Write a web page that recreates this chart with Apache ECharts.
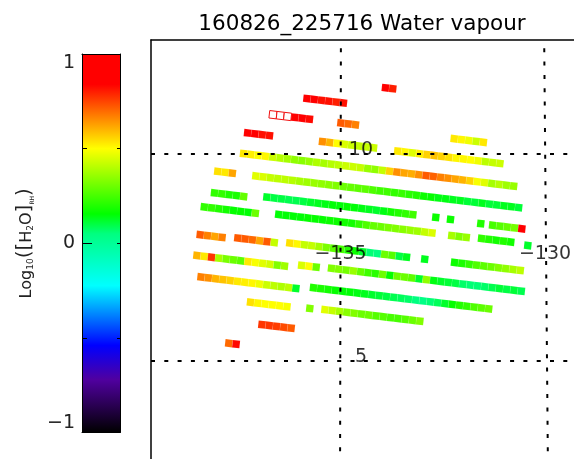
<!DOCTYPE html>
<html><head><meta charset="utf-8">
<style>html,body{margin:0;padding:0;background:#fff}#c{width:574px;height:459px}</style>
<script src="https://cdn.jsdelivr.net/npm/echarts@6/dist/echarts.min.js"></script>
</head><body><div id="c"></div>
<script>
const titleText = '160826_225716 Water vapour';
const FONT = '"DejaVu Sans ExtraLight","DejaVu Sans"';
// colour table: value -> colour
const rampValues = [-1, -0.72, -0.54, -0.224, 0.05, 0.155, 0.5, 0.67, 0.84, 1];
const rampColors = ['#000000', '#5000a0', '#0000ff', '#00ffff', '#00ff80', '#00ff00', '#ffff00', '#ff8000', '#ff0000', '#ff0000'];
// left edge of each swath strip, degrees
const stripLon = [-135.91,-133.99,-136.74,-135.08,-137.36,-135.53,-132.31,-133.69,-137.46,-138.09,-137.16,-138.17,-136.89,-132.76,-132.40,-131.66,-131.37,-138.42,-136.60,-132.37,-131.64,-130.51,-138.52,-137.60,-136.33,-133.03,-132.30,-138.60,-136.04,-135.31,-138.50,-135.75,-137.29,-135.84,-135.47,-137.01,-137.82];
const stripLat = [11.35,11.61,10.96,10.76,10.52,10.31,10.38,10.08,10.02,9.59,9.48,9.07,8.97,8.48,8.43,8.33,8.29,8.73,8.55,8.04,7.97,7.80,8.06,7.98,7.86,7.47,7.39,7.56,7.32,7.25,7.04,6.78,6.43,6.28,6.25,5.89,5.44];
// log10 water vapour per cell; null = open (unfilled) cell
const stripValues = [
 [.85,.85,.82,.82,.8,.82],
 [.85,.8],
 [null,null,null,.85,.85,.83],
 [.72,.70,.67],
 [.85,.85,.82,.82],
 [.65,.6,.5,.45,.43,.42,.42,.43],
 [.53,.51,.48,.43,.53],
 [.53,.51,.46,.52,.56,.58,.56,.54,.51,.51,.5,.48,.41,.42,.43],
 [.53,.52,.5,.51,.43,.4,.38,.35,.34,.36,.39,.38,.40,.41,.43,.43,.42,.36,.35,.42,.56,.65,.62,.61,.65,.72,.71,.67,.65,.62,.6,.56,.49,.46,.38,.4,.37,.36],
 [.54,.53,.62],
 [.46,.45,.42,.41,.41,.40,.38,.37,.36,.35,.34,.33,.3,.29,.28,.28,.26,.24,.24,.22,.23,.21,.2,.17,.16,.14,.14,.13,.13,.11,.11,.13,.11,.11,.13,.13,.11],
 [.22,.22,.19,.19,.29],
 [.12,.1,.1,.09,.09,.1,.12,.13,.14,.15,.15,.16,.15,.14,.13,.12,.14,.18,.2,.22,.24],
 [.17],[.17],[.2],
 [.25,.27,.29,.31,.85],
 [.22,.22,.2,.18,.16,.16,.15,.3],
 [.15,.15,.15,.15,.16,.16,.16,.17,.17,.18,.18,.22,.26,.29,.3,.32,.33,.34,.36,.37,.42,.45],
 [.38,.33,.36],
 [.22,.2,.18,.2,.18],
 [.12],
 [.72,.67,.62,.67],
 [.72,.72,.70,.62,.72,.42],
 [.54,.51,.42,.42,.38,.32,.28,.25,.2,.17,.12,.06,.05,.3,.27,.1,.13],
 [.13],
 [.17,.19,.22,.26,.28,.3,.33,.35,.38,.41],
 [.6,.53,.77,.38,.32,.3,.28,.53,.49,.46,.44,.33,.37],
 [.45,.5,.3],
 [.33,.33,.31,.36,.29,.24,.21,.3,.16,.3,.3,.28,.12,.35,.14,.12,.11,.1,.07,.06,.06,.07,.09,.11,.1,.11,.09],
 [.67,.65,.6,.58,.56,.53,.52,.51,.48,.43,.41,.39,.41,.12],
 [.2,.19,.18,.16,.15,.15,.14,.13,.12,.11,.1,.09,.08,.07,.05,.04,.06,.08,.12,.16,.2,.22,.26,.28,.3],
 [.54,.51,.5,.5,.5,.49],
 [.33],
 [.46,.42,.38,.34,.33,.3,.3,.27,.27,.25,.25,.27,.3,.33],
 [.77,.77,.76,.74,.72],
 [.7,.83]
];
// one swath cell along a strip, degrees
const cellLon = 0.1785, cellLat = -0.0212, cellHalfLat = 0.09, cellShear = 0.01;
// graticule
const lonExtent = [-139.633, -129.291], latExtent = [2.633, 12.754];
const latLines = [10, 5];
const lon135Line = [[-134.99, 12.754], [-135.01, 2.633]];
const lon130Line = [[-130.02, 12.754], [-129.93, 2.633]];
const mapLabels = [['10', -134.5, 10.1], ['5', -134.5, 5.1], ['\u2212135', -135, 7.59], ['\u2212130', -130, 7.59]];
const barLabels = {'-1': '\u22121', '0': '0', '1': '1'};

function ramp(v) {
  let i = 0;
  while (i < rampValues.length - 2 && v > rampValues[i + 1]) i++;
  const t = Math.max(0, Math.min(1, (v - rampValues[i]) / (rampValues[i + 1] - rampValues[i])));
  const c = h => [1, 3, 5].map(k => parseInt(h.substr(k, 2), 16));
  const a = c(rampColors[i]), b = c(rampColors[i + 1]);
  return 'rgb(' + a.map((x, k) => Math.round(x + (b[k] - x) * t)).join(',') + ')';
}
const cells = [];
stripValues.forEach((vals, s) => vals.forEach((v, i) => {
  cells.push([stripLon[s] + i * cellLon, stripLat[s] + i * cellLat, v === null ? NaN : v]);
}));
const dashed = {color: '#000', width: 2, type: [4, 9.3]};
const lineSeries = (data, offset) => ({
  type: 'line', xAxisIndex: 0, yAxisIndex: 0, data, symbol: 'none', silent: true, z: 6, clip: true,
  lineStyle: Object.assign({}, dashed, {dashOffset: offset})
});
const chart = echarts.init(document.getElementById('c'), null, {renderer: 'canvas'});
const thin = {color: '#000', width: 1};
chart.setOption({
  animation: false,
  backgroundColor: '#fff',
  title: {text: titleText, left: 357, top: 8, textAlign: 'center',
    textStyle: {fontFamily: FONT, fontWeight: 'normal', fontSize: 21.5, color: '#000'}},
  grid: [
    {left: 151, top: 40, right: 0, bottom: 0, outerBoundsMode: 'none'},
    {left: 82, top: 54, width: 38, height: 378.5, outerBoundsMode: 'none'}
  ],
  xAxis: [
    {type: 'value', gridIndex: 0, min: lonExtent[0], max: lonExtent[1], position: 'top',
     axisLine: {show: true, onZero: false, lineStyle: {color: '#000', width: 1.5}}, axisTick: {show: false}, axisLabel: {show: false}, splitLine: {show: false}},
    {type: 'value', gridIndex: 1, z: 5, min: 0, max: 1, position: 'top', axisLine: {show: true, onZero: false, lineStyle: thin}, axisTick: {show: false}, axisLabel: {show: false}, splitLine: {show: false}},
    {type: 'value', gridIndex: 1, z: 5, min: 0, max: 1, position: 'bottom', axisLine: {show: true, onZero: false, lineStyle: thin}, axisTick: {show: false}, axisLabel: {show: false}, splitLine: {show: false}}
  ],
  yAxis: [
    {type: 'value', gridIndex: 0, min: latExtent[0], max: latExtent[1], position: 'left',
     axisLine: {show: true, onZero: false, lineStyle: {color: '#000', width: 1.5}}, axisTick: {show: false}, axisLabel: {show: false}, splitLine: {show: false}},
    {type: 'value', gridIndex: 1, z: 5, min: -1, max: 1, interval: 0.5, position: 'left',
     axisLine: {show: true, onZero: false, lineStyle: thin}, splitLine: {show: false},
     axisTick: {show: true, inside: true, length: 5, lineStyle: thin},
     axisLabel: {show: true, margin: 7, fontFamily: FONT, fontSize: 19, color: '#222',
       verticalAlignMinLabel: 'bottom', verticalAlignMaxLabel: 'top',
       formatter: v => barLabels[String(v)] || ''},
     name: '{a|Log}{b|10}{c|([}{a|H}{b|2}{a|O}{c|]}{d|RH}{c|)}', nameLocation: 'middle', nameRotate: 90, nameGap: 47,
     nameTextStyle: {rich: {
       a: {fontFamily: FONT, fontSize: 16, color: '#222', verticalAlign: 'bottom', lineHeight: 20},
       b: {fontFamily: FONT, fontSize: 9, color: '#222', verticalAlign: 'bottom', lineHeight: 16},
       c: {fontFamily: FONT, fontSize: 20, color: '#222', verticalAlign: 'bottom', lineHeight: 24},
       d: {fontFamily: FONT, fontSize: 6, color: '#222', verticalAlign: 'bottom', lineHeight: 14}
     }}},
    {type: 'value', gridIndex: 1, z: 5, min: -1, max: 1, interval: 0.5, position: 'right',
     axisLine: {show: true, onZero: false, lineStyle: thin}, splitLine: {show: false},
     axisTick: {show: true, inside: true, length: 3, lineStyle: thin}, axisLabel: {show: false}},
    {type: 'value', gridIndex: 1, z: 5, min: -1, max: 1, interval: 0.5, position: 'left',
     axisLine: {show: false}, splitLine: {show: false},
     axisTick: {show: true, inside: true, length: 10, customValues: [0], lineStyle: thin}, axisLabel: {show: false}}
  ],
  series: [
    {type: 'custom', xAxisIndex: 1, yAxisIndex: 1, data: [[0, -1, 1, 1]], z: 1, silent: true,
     renderItem: (p, api) => {
       const a = api.coord([0, 1]), b = api.coord([1, -1]);
       return {type: 'rect', shape: {x: a[0], y: a[1], width: b[0] - a[0], height: b[1] - a[1]},
         style: {fill: new echarts.graphic.LinearGradient(0, 1, 0, 0,
           rampValues.map((v, i) => ({offset: (v + 1) / 2, color: rampColors[i]})))}};
     }},
    {type: 'custom', xAxisIndex: 0, yAxisIndex: 0, z: 3, silent: true, clip: false,
     dimensions: ['lon', 'lat', 'log10'], encode: {x: 0, y: 1},
     data: cells,
     renderItem: (p, api) => {
       const lon = api.value(0), lat = api.value(1), v = api.value(2);
       const pts = [
         api.coord([lon + cellShear, lat + cellHalfLat]),
         api.coord([lon + cellLon + cellShear, lat + cellLat + cellHalfLat]),
         api.coord([lon + cellLon - cellShear, lat + cellLat - cellHalfLat]),
         api.coord([lon - cellShear, lat - cellHalfLat])
       ];
       const open = isNaN(v);
       return {type: 'polygon', shape: {points: pts},
         style: open ? {fill: '#fff', stroke: '#f01010', lineWidth: 1}
                     : {fill: ramp(v), stroke: 'rgba(255,255,255,0.12)', lineWidth: 0.5}};
     }},
    lineSeries([[lonExtent[0], latLines[0]], [lonExtent[1], latLines[0]]], 0),
    lineSeries([[lonExtent[0], latLines[1]], [lonExtent[1], latLines[1]]], 0),
    lineSeries(lon135Line, 5),
    lineSeries(lon130Line, 5),
    {type: 'scatter', xAxisIndex: 0, yAxisIndex: 0, z: 7, silent: true, symbolSize: 0,
     data: mapLabels.map(l => ({value: [l[1], l[2]], name: l[0]})),
     label: {show: true, position: 'inside', formatter: d => d.name, fontFamily: FONT, fontSize: 19, color: '#000'}}
  ]
});
</script></body></html>
